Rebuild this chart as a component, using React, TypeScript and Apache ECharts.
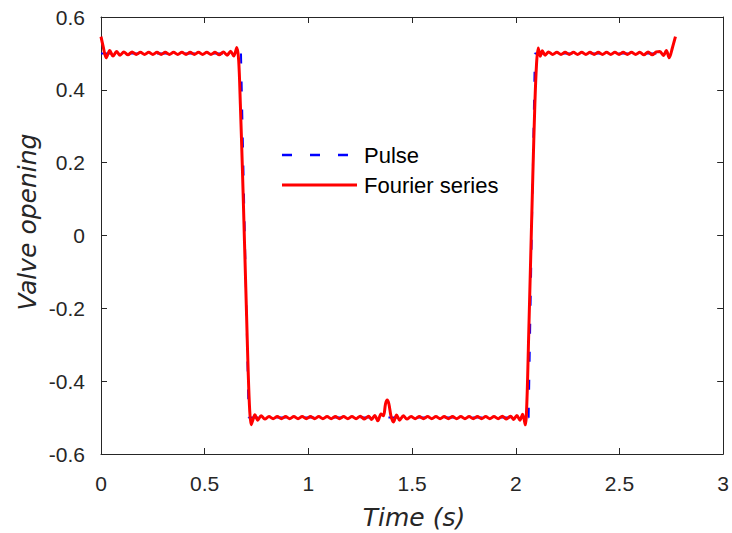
import React, { useEffect, useRef } from "react";
import * as echarts from "echarts";

const xTicks = [0, 0.5, 1, 1.5, 2, 2.5, 3];
const yTicks = [-0.6, -0.4, -0.2, 0, 0.2, 0.4, 0.6];
const legendNames = ["Pulse", "Fourier series"];

const pulseSeries: [number, number][] = [
  [0, 0.5],
  [0.675, 0.5],
  [0.712, -0.5],
  [2.062, -0.5],
  [2.092, 0.5],
  [2.737, 0.5],
];

const fourierSeries: [number, number][] = [
  [0.0, 0.546], [0.01, 0.52], [0.025, 0.488], [0.042, 0.508], [0.058, 0.493],
  [0.075, 0.505], [0.092, 0.495], [0.11, 0.504], [0.13, 0.496], [0.15, 0.504],
  [0.17, 0.497], [0.19, 0.503], [0.21, 0.497], [0.23, 0.503], [0.25, 0.497],
  [0.27, 0.503], [0.29, 0.497], [0.31, 0.503], [0.33, 0.497], [0.35, 0.503],
  [0.37, 0.497], [0.39, 0.503], [0.41, 0.497], [0.43, 0.503], [0.45, 0.497],
  [0.47, 0.503], [0.49, 0.497], [0.51, 0.503], [0.53, 0.497], [0.55, 0.503],
  [0.57, 0.496], [0.59, 0.504], [0.608, 0.495], [0.625, 0.506], [0.64, 0.493],
  [0.655, 0.516], [0.664, 0.48], [0.672, 0.36], [0.682, 0.18], [0.692, -0.02],
  [0.702, -0.22], [0.71, -0.38], [0.717, -0.48], [0.724, -0.52], [0.733, -0.505],
  [0.742, -0.492], [0.756, -0.507], [0.772, -0.495], [0.79, -0.504],
  [0.81, -0.497], [0.83, -0.503], [0.85, -0.497], [0.87, -0.503], [0.89, -0.497],
  [0.91, -0.503], [0.93, -0.497], [0.95, -0.503], [0.97, -0.497], [0.99, -0.503],
  [1.01, -0.497], [1.03, -0.503], [1.05, -0.497], [1.07, -0.503], [1.09, -0.497],
  [1.11, -0.503], [1.13, -0.497], [1.15, -0.503], [1.17, -0.497], [1.19, -0.503],
  [1.21, -0.497], [1.23, -0.503], [1.25, -0.496], [1.27, -0.504], [1.29, -0.496],
  [1.305, -0.505], [1.32, -0.494], [1.335, -0.509], [1.35, -0.49], [1.362, -0.495],
  [1.372, -0.462], [1.38, -0.452], [1.388, -0.462], [1.398, -0.495], [1.41, -0.512],
  [1.425, -0.493], [1.44, -0.507], [1.458, -0.495], [1.475, -0.504],
  [1.495, -0.497], [1.515, -0.503], [1.535, -0.497], [1.555, -0.503], [1.575, -0.497],
  [1.595, -0.503], [1.615, -0.497], [1.635, -0.503], [1.655, -0.497], [1.675, -0.503],
  [1.695, -0.497], [1.715, -0.503], [1.735, -0.497], [1.755, -0.503], [1.775, -0.497],
  [1.795, -0.503], [1.815, -0.497], [1.835, -0.503], [1.855, -0.497], [1.875, -0.503],
  [1.895, -0.497], [1.915, -0.503], [1.935, -0.496], [1.955, -0.504], [1.975, -0.496],
  [1.99, -0.505], [2.005, -0.494], [2.02, -0.507], [2.033, -0.491], [2.046, -0.52],
  [2.054, -0.45], [2.062, -0.28], [2.072, -0.06], [2.082, 0.16], [2.092, 0.36],
  [2.1, 0.47], [2.108, 0.515], [2.118, 0.492], [2.128, 0.507], [2.142, 0.495],
  [2.158, 0.504],
  [2.178, 0.497], [2.198, 0.503], [2.218, 0.497], [2.238, 0.503], [2.258, 0.497],
  [2.278, 0.503], [2.298, 0.497], [2.318, 0.503], [2.338, 0.497], [2.358, 0.503],
  [2.378, 0.497], [2.398, 0.503], [2.418, 0.497], [2.438, 0.503], [2.458, 0.497],
  [2.478, 0.503], [2.498, 0.497], [2.518, 0.503], [2.538, 0.497], [2.558, 0.503],
  [2.578, 0.497], [2.598, 0.503], [2.618, 0.496], [2.638, 0.504], [2.658, 0.496],
  [2.678, 0.504],
  [2.695, 0.505], [2.712, 0.494], [2.726, 0.508], [2.74, 0.488], [2.755, 0.515],
  [2.77, 0.546],
];

const FONT = "Liberation Sans, Arial, Helvetica, sans-serif";
const TITLE_FONT = "'DejaVu Sans', 'Liberation Sans', sans-serif";
const AXIS_COLOR = "#262626";
const BLUE = "#0000ff";
const RED = "#ff0000";

export default function App() {
  const ref = useRef<HTMLDivElement>(null);
  useEffect(() => {
    document.body.style.margin = "0";
    if (!ref.current) return;
    const chart = echarts.init(ref.current, undefined, { renderer: "svg" });
    const fmt = (v: number) => String(Number(v.toFixed(1)));
    const axisLineStyle = { color: AXIS_COLOR, width: 1 };
    const xBase = {
      type: "value",
      min: xTicks[0],
      max: xTicks[xTicks.length - 1],
      interval: 0.5,
      axisLine: { show: true, onZero: false, lineStyle: axisLineStyle },
      axisTick: { show: true, inside: true, length: 6, lineStyle: axisLineStyle },
      splitLine: { show: false },
    };
    const yBase = {
      type: "value",
      min: yTicks[0],
      max: yTicks[yTicks.length - 1],
      interval: 0.2,
      axisLine: { show: true, onZero: false, lineStyle: axisLineStyle },
      axisTick: { show: true, inside: true, length: 6, lineStyle: axisLineStyle },
      splitLine: { show: false },
    };
    chart.setOption({
      animation: false,
      backgroundColor: "#ffffff",
      grid: { left: 101, right: 6, top: 17, bottom: 79, containLabel: false },
      xAxis: [
        {
          ...xBase,
          position: "bottom",
          axisLabel: { fontFamily: FONT, fontSize: 21, color: AXIS_COLOR, margin: 19, formatter: fmt },
        },
        { ...xBase, position: "top", axisLabel: { show: false } },
      ],
      yAxis: [
        {
          ...yBase,
          position: "left",
          axisLabel: { fontFamily: FONT, fontSize: 21, color: AXIS_COLOR, margin: 16, formatter: fmt },
        },
        { ...yBase, position: "right", axisLabel: { show: false } },
      ],
      graphic: [
        {
          type: "text",
          x: 414,
          y: 517,
          style: {
            text: "Time (s)",
            font: `italic 25px ${TITLE_FONT}`,
            fill: AXIS_COLOR,
            align: "center",
            verticalAlign: "middle",
          },
        },
        {
          type: "text",
          x: 27,
          y: 222,
          rotation: Math.PI / 2,
          style: {
            text: "Valve opening",
            font: `italic 25px ${TITLE_FONT}`,
            fill: AXIS_COLOR,
            align: "center",
            verticalAlign: "middle",
          },
        },
        {
          type: "line",
          shape: { x1: 282, y1: 155, x2: 357, y2: 155 },
          style: { stroke: BLUE, lineWidth: 2.5, lineDash: [10, 18] },
        },
        {
          type: "text",
          x: 364,
          y: 155,
          style: {
            text: legendNames[0],
            font: `22px ${FONT}`,
            fill: "#000",
            align: "left",
            verticalAlign: "middle",
          },
        },
        {
          type: "line",
          shape: { x1: 282, y1: 185, x2: 357, y2: 185 },
          style: { stroke: RED, lineWidth: 3 },
        },
        {
          type: "text",
          x: 364,
          y: 185,
          style: {
            text: legendNames[1],
            font: `22px ${FONT}`,
            fill: "#000",
            align: "left",
            verticalAlign: "middle",
          },
        },
      ],
      series: [
        {
          name: legendNames[0],
          type: "line",
          data: pulseSeries,
          symbol: "none",
          lineStyle: { color: BLUE, width: 2, type: [10, 18] },
          itemStyle: { color: BLUE },
        },
        {
          name: legendNames[1],
          type: "line",
          data: fourierSeries,
          symbol: "none",
          smooth: 0.3,
          lineStyle: { color: RED, width: 3 },
          itemStyle: { color: RED },
        },
      ],
    });
    return () => chart.dispose();
  }, []);
  return <div ref={ref} style={{ width: 732, height: 533 }} />;
}
